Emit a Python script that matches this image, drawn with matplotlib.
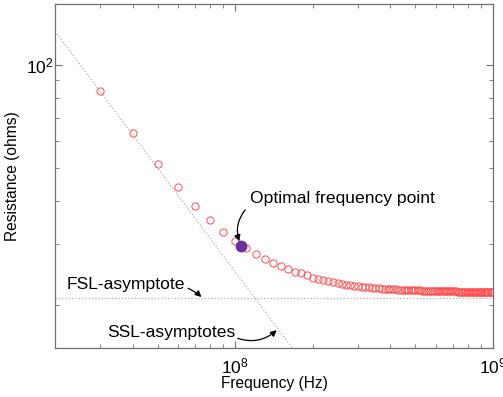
import numpy as np
import matplotlib
matplotlib.use('Agg')
import matplotlib.pyplot as plt
from matplotlib.ticker import LogLocator, NullFormatter, LogFormatterSciNotation

plt.rcParams['font.family'] = ['Liberation Sans', 'DejaVu Sans']
plt.rcParams['mathtext.fontset'] = 'custom'
plt.rcParams['mathtext.rm'] = 'Liberation Sans'

# measured resistance, frequency in units of 1e7 Hz
freq = np.arange(3, 101) * 1e7
res = [83.6, 63.2, 51.3, 44.1, 38.9, 35.3, 32.7, 30.8, 29.3, 28.2,
       27.2, 26.5, 25.9, 25.4, 25.0, 24.7, 24.4, 24.0, 23.8, 23.6,
       23.45, 23.3, 23.15, 23.0, 22.9, 22.8, 22.7, 22.65, 22.6, 22.55,
       22.5, 22.45, 22.4, 22.37, 22.34, 22.31, 22.28, 22.25, 22.23, 22.21,
       22.19, 22.17, 22.15, 22.13, 22.11, 22.09, 22.08, 22.07, 22.06, 22.05,
       22.04, 22.03, 22.02, 22.01, 22.0, 21.99, 21.98, 21.97, 21.96, 21.96,
       21.95, 21.94, 21.94, 21.93, 21.92, 21.92, 21.91, 21.91, 21.9, 21.9,
       21.89, 21.89, 21.88, 21.88, 21.87, 21.87, 21.86, 21.86, 21.85, 21.85,
       21.85, 21.84, 21.84, 21.84, 21.83, 21.83, 21.83, 21.82, 21.82, 21.82,
       21.81, 21.81, 21.81, 21.81, 21.8, 21.8, 21.8, 21.8]

# optimal point
f_opt = 1.055e8
r_opt = 29.6

# asymptotes
fsl_f = [2e7, 1e9]
fsl_r = [21.0, 21.0]
ssl_f = [2e7, 2e8]
ssl_r = [125.0, 12.5]

fig = plt.figure(figsize=(5.03, 3.97), dpi=100)
ax = fig.add_axes([0.1093, 0.1234, 0.8707, 0.8665])

ax.plot(ssl_f, ssl_r, ':', color='#b0b0b0', lw=0.9)
ax.plot(fsl_f, fsl_r, ':', color='#b0b0b0', lw=0.9)
ax.plot(freq, res, 'o', mfc='none', mec='#ff5050', ms=5.2, mew=0.7)
ax.plot([f_opt], [r_opt], 'o', color='#6a30a0', ms=7.5)

ax.set_xscale('log')
ax.set_yscale('log')
ax.set_xlim(2e7, 1e9)
ax.set_ylim(15, 150)

for a in (ax.xaxis, ax.yaxis):
    a.set_major_locator(LogLocator(base=10))
    a.set_minor_locator(LogLocator(base=10, subs=np.arange(2, 10)))
    a.set_major_formatter(LogFormatterSciNotation())
    a.set_minor_formatter(NullFormatter())

ax.tick_params(which='both', direction='in', top=True, right=True,
               color='#707070', labelsize=12.5)
ax.tick_params(which='major', length=5, width=0.8)
ax.tick_params(which='minor', length=3, width=0.6)
ax.tick_params(axis='x', pad=6)
ax.tick_params(axis='y', pad=1)
for s in ax.spines.values():
    s.set_color('#707070')
    s.set_linewidth(0.9)

ax.set_xlabel('Frequency (Hz)', fontsize=11.2, labelpad=0)
ax.set_ylabel('Resistance (ohms)', fontsize=11.2, labelpad=4)

arr = dict(arrowstyle='-|>', color='black', lw=0.9, mutation_scale=9)
ax.annotate('Optimal frequency point', xy=(f_opt, r_opt), xytext=(1.14e8, 40.7),
            fontsize=12.6, ha='left', va='center',
            arrowprops=dict(arr, connectionstyle='arc3,rad=0.35', shrinkB=4,
                            relpos=(0.0, 0.1)))
ax.annotate('FSL-asymptote', xy=(7.4e7, 21.1), xytext=(6.4e7, 23.0),
            fontsize=12.6, ha='right', va='center',
            arrowprops=dict(arr, connectionstyle='arc3,rad=-0.1', shrinkA=0, shrinkB=0,
                            relpos=(1.0, 0.3)))
ax.annotate('SSL-asymptotes', xy=(1.45e8, 16.9), xytext=(1.0e8, 16.6),
            fontsize=12.6, ha='right', va='center',
            arrowprops=dict(arr, connectionstyle='arc3,rad=0.3', shrinkA=0, shrinkB=0,
                            relpos=(1.0, 0.2)))

fig.savefig('out.png', dpi=100)
